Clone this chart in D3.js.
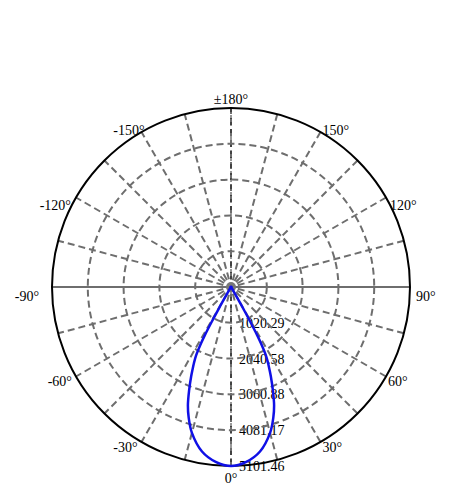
<!DOCTYPE html>
<html>
<head>
<meta charset="utf-8">
<script src="https://cdn.jsdelivr.net/npm/d3@7"></script>
<style>
  body { margin: 0; background: #fff; }
  text { font-family: "Liberation Serif", "Times New Roman", serif; font-size: 14px; fill: #000; }
</style>
</head>
<body>
<div id="chart"></div>
<script>
// Luminous intensity (cd) per angle, symmetric about 0°
var angles = [0, 5, 10, 15, 18, 20, 22, 24, 25, 26, 27, 28, 28.5, 29, 29.5, 30, 31, 33, 35, 45, 60, 90, 120, 150, 180];
var intensity = [5101.46, 5002, 4760, 4304, 3905, 3591, 3192, 2793, 2594, 2408, 2195, 1824, 1568, 1140, 713, 342, 143, 57, 40, 25, 20, 15, 10, 8, 8];

// Radial ring values and labels
var ringValues = [1020.29, 2040.58, 3060.88, 4081.17, 5101.46];
var ringLabels = ["1020.29", "2040.58", "3060.88", "4081.17", "5101.46"];

// Angle labels
var labelAngles = [0, 30, 60, 90, 120, 150, 180, -150, -120, -90, -60, -30];
var labelTexts = ["0°", "30°", "60°", "90°", "120°", "150°", "±180°", "-150°", "-120°", "-90°", "-60°", "-30°"];

var width = 450, height = 500;
var cx = 231, cy = 287, R = 179;

var svg = d3.select("#chart").append("svg")
    .attr("width", width)
    .attr("height", height);

var r = d3.scaleLinear().domain([0, 5101.46]).range([0, R]);

// polar -> screen: 0° points down, 90° to the right
function px(a, v) { return cx + r(v) * Math.sin(a * Math.PI / 180); }
function py(a, v) { return cy + r(v) * Math.cos(a * Math.PI / 180); }

var g = svg.append("g");

// radial value labels (under the grid)
g.selectAll(".rlabel")
    .data(ringValues)
    .enter().append("text")
    .attr("x", cx + 8)
    .attr("y", function(d) { return cy + r(d) + 5; })
    .text(function(d, i) { return ringLabels[i]; });

// spokes every 15 degrees, drawn as diameters
var spokes = d3.range(0, 180, 15);
g.selectAll(".spoke")
    .data(spokes)
    .enter().append("line")
    .attr("x1", function(a) { return px(a, 5101.46); })
    .attr("y1", function(a) { return py(a, 5101.46); })
    .attr("x2", function(a) { return px(a + 180, 5101.46); })
    .attr("y2", function(a) { return py(a + 180, 5101.46); })
    .attr("stroke", "#6e6e6e")
    .attr("stroke-width", 2)
    .attr("stroke-dasharray", function(a) { return a === 90 ? null : "7,4"; });

// thin black dashed axis along 0°/180°
g.append("line")
    .attr("x1", cx).attr("y1", cy - R)
    .attr("x2", cx).attr("y2", cy + R)
    .attr("stroke", "#000")
    .attr("stroke-width", 0.8)
    .attr("stroke-dasharray", "4,3");

// rings
g.selectAll(".ring")
    .data(ringValues.slice(0, -1))
    .enter().append("circle")
    .attr("cx", cx).attr("cy", cy)
    .attr("r", function(d) { return r(d); })
    .attr("fill", "none")
    .attr("stroke", "#6e6e6e")
    .attr("stroke-width", 2)
    .attr("stroke-dasharray", "7,4");

// outer circle
g.append("circle")
    .attr("cx", cx).attr("cy", cy)
    .attr("r", R)
    .attr("fill", "none")
    .attr("stroke", "#000")
    .attr("stroke-width", 2);

// center blob
g.append("circle")
    .attr("cx", cx).attr("cy", cy)
    .attr("r", 5)
    .attr("fill", "#777");

// angle labels: small per-label nudges to sit like the original
var labelDx = { "0": 0, "30": 2, "60": 2, "90": 6, "120": 4, "150": 2, "180": 0,
                "-150": 3, "-120": -5, "-90": -13, "-60": -4, "-30": -4 };
var labelDy = { "0": 17, "30": 10, "60": 9, "90": 14, "120": 12, "150": 3, "180": -4,
                "-150": 3, "-120": 12, "-90": 14, "-60": 9, "-30": 10 };

g.selectAll(".alabel")
    .data(labelAngles)
    .enter().append("text")
    .attr("x", function(a) { return px(a, 5101.46) + labelDx[a]; })
    .attr("y", function(a) { return py(a, 5101.46) + labelDy[a]; })
    .attr("text-anchor", function(a) {
        if (a === 0 || a === 180) return "middle";
        return a > 0 ? "start" : "end";
    })
    .text(function(a, i) { return labelTexts[i]; });

// intensity curve, mirrored for negative angles
var pts = [];
for (var i = angles.length - 1; i > 0; i--) pts.push([-angles[i], intensity[i]]);
for (var j = 0; j < angles.length; j++) pts.push([angles[j], intensity[j]]);

var radial = d3.lineRadial()
    .angle(function(d) { return Math.PI - d[0] * Math.PI / 180; })
    .radius(function(d) { return r(d[1]); })
    .curve(d3.curveCatmullRomClosed.alpha(0.5));

g.append("path")
    .datum(pts)
    .attr("transform", "translate(" + cx + "," + cy + ")")
    .attr("d", radial)
    .attr("fill", "none")
    .attr("stroke", "#1010e6")
    .attr("stroke-width", 2.5);
</script>
</body>
</html>
